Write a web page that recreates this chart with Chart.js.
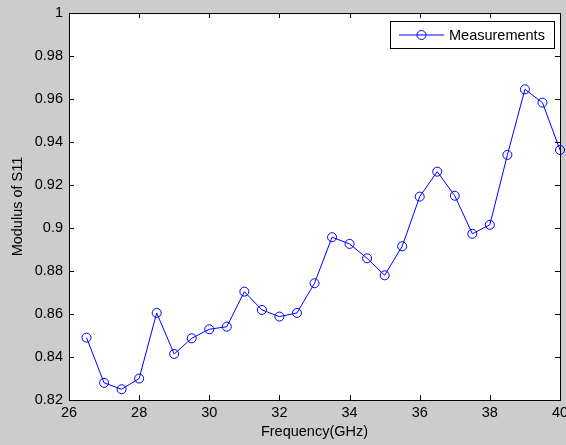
<!DOCTYPE html>
<html>
<head>
<meta charset="utf-8">
<script src="https://cdn.jsdelivr.net/npm/chart.js@4"></script>
<style>
  html, body { margin: 0; padding: 0; background: #cccccc; }
  #wrap { width: 566px; height: 445px; }
</style>
</head>
<body>
<div id="wrap"><canvas id="s11Chart" width="566" height="445"></canvas></div>
<script>
// Measured |S11| across the band
const freqGHz = [26.5, 27, 27.5, 28, 28.5, 29, 29.5, 30, 30.5, 31, 31.5, 32, 32.5, 33,
                 33.5, 34, 34.5, 35, 35.5, 36, 36.5, 37, 37.5, 38, 38.5, 39, 39.5, 40];
const s11Modulus = [0.849, 0.828, 0.825, 0.830, 0.8605, 0.8414, 0.8487, 0.8529, 0.8541, 0.8704,
                    0.8619, 0.8588, 0.8605, 0.8743, 0.8957, 0.8926, 0.8859, 0.878, 0.8915, 0.9146,
                    0.9262, 0.915, 0.8973, 0.9015, 0.934, 0.9645, 0.9583, 0.9363];
const xTicks = [26, 28, 30, 32, 34, 36, 38, 40];
const yTicks = [0.82, 0.84, 0.86, 0.88, 0.9, 0.92, 0.94, 0.96, 0.98, 1];

const FONT = 'Arial, "Liberation Sans", sans-serif';
const FSIZE = 14.5;
const BLUE = 'rgb(0, 0, 255)';

// grey figure background, white axes box, black frame with inward ticks
const axesBox = {
    id: 'axesBox',
    beforeDraw(chart) {
        const ctx = chart.ctx;
        const a = chart.chartArea;
        ctx.save();
        ctx.fillStyle = '#cccccc';
        ctx.fillRect(0, 0, chart.width, chart.height);
        ctx.fillStyle = '#ffffff';
        ctx.fillRect(a.left, a.top, a.right - a.left, a.bottom - a.top);
        ctx.restore();
    },
    beforeDatasetsDraw(chart) {
        const ctx = chart.ctx;
        const a = chart.chartArea;
        const xs = chart.scales.x, ys = chart.scales.y;
        const len = 5;
        ctx.save();
        ctx.strokeStyle = '#000';
        ctx.lineWidth = 1;
        ctx.strokeRect(Math.round(a.left) + 0.5, Math.round(a.top) + 0.5,
                       Math.round(a.right - a.left), Math.round(a.bottom - a.top));
        ctx.beginPath();
        xTicks.forEach(v => {
            const px = Math.round(xs.getPixelForValue(v)) + 0.5;
            ctx.moveTo(px, a.bottom); ctx.lineTo(px, a.bottom - len);
            ctx.moveTo(px, a.top); ctx.lineTo(px, a.top + len);
        });
        yTicks.forEach(v => {
            const py = Math.round(ys.getPixelForValue(v)) + 0.5;
            ctx.moveTo(a.left, py); ctx.lineTo(a.left + len, py);
            ctx.moveTo(a.right, py); ctx.lineTo(a.right - len, py);
        });
        ctx.stroke();
        ctx.restore();
    },
    afterDraw(chart) {
        // legend box in the upper right corner
        const ctx = chart.ctx;
        const ds = chart.data.datasets[0];
        const bx = 390.5, by = 21.5, bw = 164, bh = 27;
        const cy = by + bh / 2;
        ctx.save();
        ctx.fillStyle = '#fff';
        ctx.fillRect(bx, by, bw, bh);
        ctx.strokeStyle = '#000';
        ctx.lineWidth = 1;
        ctx.strokeRect(bx, by, bw, bh);
        ctx.strokeStyle = BLUE;
        ctx.beginPath();
        ctx.moveTo(399, cy); ctx.lineTo(444, cy);
        ctx.stroke();
        ctx.beginPath();
        ctx.arc(421.5, cy, 4.5, 0, Math.PI * 2);
        ctx.stroke();
        ctx.fillStyle = '#000';
        ctx.font = FSIZE + 'px ' + FONT;
        ctx.textBaseline = 'middle';
        ctx.fillText(ds.label, 449, cy + 1);
        ctx.restore();
    }
};

new Chart(document.getElementById('s11Chart'), {
    type: 'line',
    data: {
        datasets: [{
            label: 'Measurements',
            data: freqGHz.map((f, i) => ({ x: f, y: s11Modulus[i] })),
            borderColor: BLUE,
            borderWidth: 1,
            pointStyle: 'circle',
            pointRadius: 4.5,
            pointBorderWidth: 1,
            pointBorderColor: BLUE,
            pointBackgroundColor: 'rgba(0,0,0,0)',
            tension: 0,
            clip: false
        }]
    },
    options: {
        responsive: false,
        animation: false,
        layout: { padding: { top: 13, right: 6, left: 0, bottom: 0 } },
        plugins: {
            legend: { display: false },
            tooltip: { enabled: false }
        },
        scales: {
            x: {
                type: 'linear',
                min: 26,
                max: 40,
                afterBuildTicks: s => { s.ticks = xTicks.map(v => ({ value: v })); },
                afterFit: s => { s.height = 45; s.paddingLeft = 0; s.paddingRight = 0; },
                grid: { display: false, drawTicks: false },
                border: { display: false },
                ticks: {
                    color: '#000',
                    font: { family: FONT, size: FSIZE },
                    padding: 4,
                    maxRotation: 0,
                    autoSkip: false
                },
                title: {
                    display: true,
                    text: 'Frequency(GHz)',
                    color: '#000',
                    font: { family: FONT, size: FSIZE },
                    padding: { top: 0, bottom: 4 }
                }
            },
            y: {
                min: 0.82,
                max: 1,
                afterBuildTicks: s => { s.ticks = yTicks.map(v => ({ value: v })); },
                afterFit: s => { s.width = 69; s.paddingTop = 0; s.paddingBottom = 0; },
                grid: { display: false, drawTicks: false },
                border: { display: false },
                ticks: {
                    color: '#000',
                    font: { family: FONT, size: FSIZE },
                    padding: 6,
                    autoSkip: false,
                    callback: v => String(+v.toFixed(2))
                },
                title: {
                    display: true,
                    text: 'Modulus of S11',
                    color: '#000',
                    font: { family: FONT, size: FSIZE },
                    padding: { top: 9, bottom: 0 }
                }
            }
        }
    },
    plugins: [axesBox]
});
</script>
</body>
</html>
